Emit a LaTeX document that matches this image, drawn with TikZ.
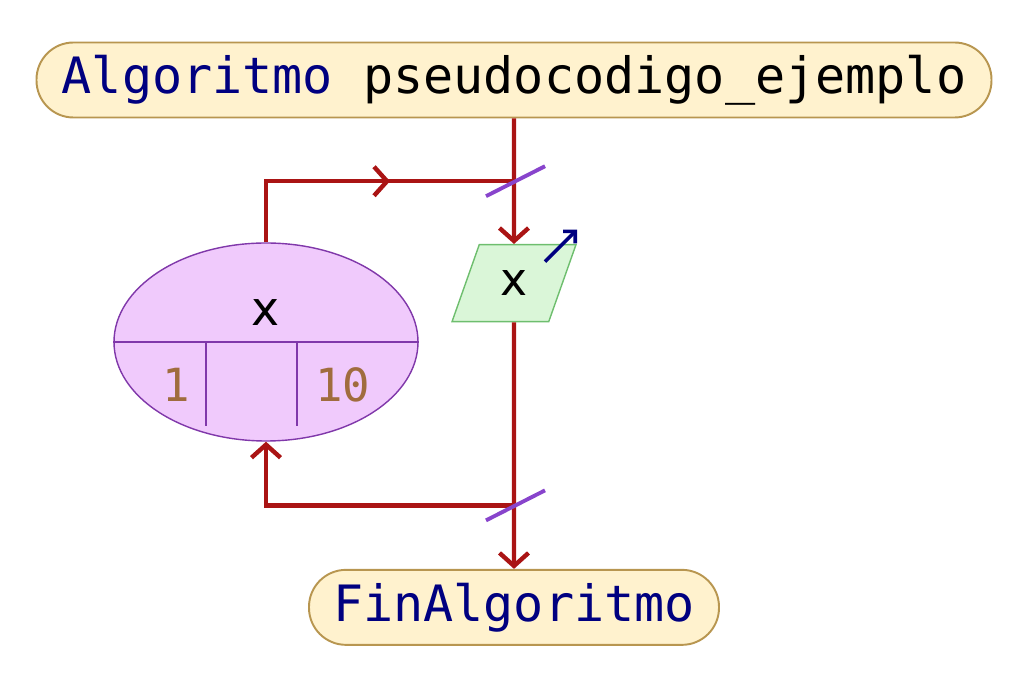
\documentclass[tikz,border=0pt]{standalone}
\usepackage{fontspec}
\setsansfont{DejaVu Sans}
\setmonofont{DejaVu Sans Mono}
\usetikzlibrary{positioning,arrows.meta,shapes.geometric,calc}

\definecolor{flujo}{RGB}{170,20,20}
\definecolor{termfondo}{RGB}{255,242,206}
\definecolor{termborde}{RGB}{184,150,80}
\definecolor{ciclofondo}{RGB}{240,202,252}
\definecolor{cicloborde}{RGB}{128,56,170}
\definecolor{leerfondo}{RGB}{218,246,216}
\definecolor{leerborde}{RGB}{110,190,110}
\definecolor{cruceviol}{RGB}{136,68,204}
\definecolor{clave}{RGB}{0,0,128}
\definecolor{numero}{RGB}{160,108,62}

\begin{document}
\begin{tikzpicture}[
    node distance = 25mm,
    term/.style   = {draw=termborde, fill=termfondo, line width=1.1pt,
                     rounded corners=7.4mm, minimum height=15mm, inner sep=0pt,
                     font=\ttfamily\fontsize{28.5}{30}\selectfont},
    ciclo/.style  = {ellipse, draw=cicloborde, fill=ciclofondo, line width=0.8pt,
                     minimum width=60.8mm, minimum height=39.6mm, inner sep=0pt},
    leer/.style   = {trapezium, trapezium left angle=67, trapezium right angle=113,
                     trapezium stretches=true, draw=leerborde, fill=leerfondo,
                     line width=0.8pt, minimum width=24.8mm, minimum height=15.4mm,
                     inner sep=0pt, font=\sffamily\fontsize{26}{28}\selectfont},
    var/.style    = {inner sep=0pt, font=\sffamily\fontsize{27}{28}\selectfont},
    num/.style    = {inner sep=0pt, text=numero,
                     font=\ttfamily\fontsize{26}{28}\selectfont},
    linea/.style  = {draw=flujo, line width=2.5pt},
    flow/.style   = {linea, -{Straight Barb[length=2.6mm,width=5.8mm]}},
    cruce/.style  = {draw=cruceviol, line width=2.2pt},
    divisor/.style= {draw=cicloborde, line width=0.8pt},
    salida/.style = {draw=clave, line width=2pt,
                     -{Straight Barb[length=1.7mm,width=3.4mm]}},
]
\useasboundingbox (0,0) rectangle (20.48,-13.78);

% --- start / end ---
\node[term, minimum width=191mm] (inicio) at (10.28,-1.6)
    {\textcolor{clave}{Algoritmo} pseudocodigo\_ejemplo};
\node[leer, below=25.1mm of inicio] (leer) {x};
\node[term, minimum width=82mm, below=49.3mm of leer, text=clave] (fin)
    {FinAlgoritmo};

% --- loop block ---
\node[ciclo] (ciclo) at (5.32,-6.84) {};
\node[var] (cvar) at ([yshift=5.8mm]ciclo.center) {x};
\node[num] (desde) at ($(ciclo.center)+(-1.8,-0.86)$) {1};
\node[num] (hasta) at ($(ciclo.center)+(1.54,-0.86)$) {10};
\draw[divisor] (ciclo.west) -- (ciclo.east);
\draw[divisor] ($(ciclo.center)+(-1.2,0)$) -- ++(0,-1.68);
\draw[divisor] ($(ciclo.center)+(0.62,0)$) -- ++(0,-1.68);

% --- junctions ---
\coordinate (j1) at ($(inicio.south)!0.5!(leer.north)$);
\coordinate (j2) at ([yshift=-36.6mm]leer.south);
\coordinate (m1) at ($(ciclo.north |- j1)!0.5!(j1)$);

% --- arrows ---
\draw[flow] (inicio) -- (leer);
\draw[flow] (leer) -- (fin);
\draw[linea] (ciclo.north) |- (j1);
\draw[flow] (ciclo.north |- j1) -- (m1);
\draw[flow] (j2) -| (ciclo.south);

% --- crossing marks ---
\draw[cruce, shift={(j1)}] (-0.56,-0.30) -- (0.62,0.30);
\draw[cruce, shift={(j2)}] (-0.56,-0.30) -- (0.62,0.30);

% --- output mark ---
\draw[salida, shift={(leer.center)}] (0.62,0.43) -- (1.26,1.07);

\end{tikzpicture}
\end{document}
